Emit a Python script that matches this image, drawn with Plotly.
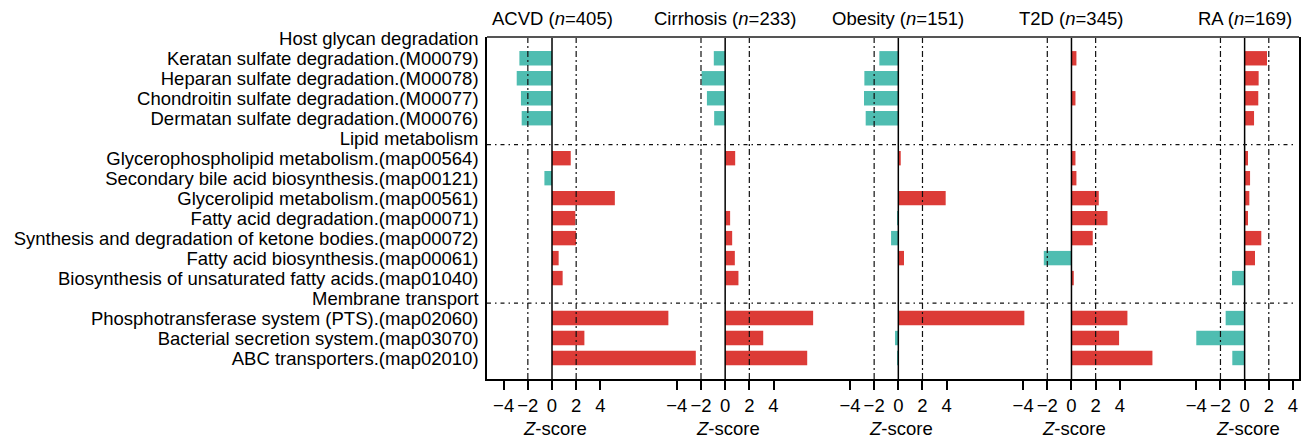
import plotly.graph_objects as go

# ---------------- data ----------------
row_labels = [
    "Host glycan degradation",
    "Keratan sulfate degradation.(M00079)",
    "Heparan sulfate degradation.(M00078)",
    "Chondroitin sulfate degradation.(M00077)",
    "Dermatan sulfate degradation.(M00076)",
    "Lipid metabolism",
    "Glycerophospholipid metabolism.(map00564)",
    "Secondary bile acid biosynthesis.(map00121)",
    "Glycerolipid metabolism.(map00561)",
    "Fatty acid degradation.(map00071)",
    "Synthesis and degradation of ketone bodies.(map00072)",
    "Fatty acid biosynthesis.(map00061)",
    "Biosynthesis of unsaturated fatty acids.(map01040)",
    "Membrane transport",
    "Phosphotransferase system (PTS).(map02060)",
    "Bacterial secretion system.(map03070)",
    "ABC transporters.(map02010)",
]
header_rows = ["Host glycan degradation", "Lipid metabolism", "Membrane transport"]

panels = ["ACVD", "Cirrhosis", "Obesity", "T2D", "RA"]
panel_n = [405, 233, 151, 345, 169]

acvd = [None, -2.70, -2.92, -2.57, -2.51, None, 1.55, -0.63, 5.20, 1.93, 1.99, 0.55, 0.88, None, 9.63, 2.68, 11.90]
cirrhosis = [None, -0.94, -1.95, -1.51, -0.91, None, 0.83, None, None, 0.41, 0.58, 0.80, 1.10, None, 7.28, 3.15, 6.79]
obesity = [None, -1.57, -2.81, -2.84, -2.70, None, 0.20, None, 3.92, -0.10, -0.60, 0.47, None, None, 10.43, -0.27, -0.10]
t2d = [None, 0.41, None, 0.33, None, None, 0.33, 0.41, 2.26, 2.98, 1.76, -2.29, 0.19, None, 4.63, 3.94, 6.70]
ra = [None, 1.85, 1.16, 1.13, 0.78, None, 0.28, 0.45, 0.39, 0.28, 1.38, 0.86, -1.04, None, -1.57, -4.00, -1.02]
panel_values = [acvd, cirrhosis, obesity, t2d, ra]

tick_values = [-4, -2, 0, 2, 4]
ref_lines = [-2, 2]

# ---------------- layout constants ----------------
SPACING = 14.33          # x-units between panel zero points
X_LEFT = -5.38
X_RIGHT = 4 * SPACING + 4.5
RED = "#DC3B37"
TEAL = "#4FBDB1"
FONT = "Liberation Sans, Arial, Helvetica, sans-serif"
FS = 18.5

offsets = [i * SPACING for i in range(len(panels))]
rows = list(range(len(row_labels)))

fig = go.Figure()

for off, vals in zip(offsets, panel_values):
    ys, xs, cols = [], [], []
    for r, v in zip(rows, vals):
        if v is None:
            continue
        ys.append(r)
        xs.append(v)
        cols.append(RED if v > 0 else TEAL)
    fig.add_trace(go.Bar(
        orientation="h", y=ys, x=xs, base=[off] * len(xs),
        marker=dict(color=cols, line=dict(width=0)),
        width=0.72, showlegend=False, hoverinfo="skip",
    ))

shapes = []
for off in offsets:
    shapes.append(dict(type="line", xref="x", yref="paper", x0=off, x1=off, y0=0, y1=1,
                       line=dict(color="black", width=1.5)))
    for rl in ref_lines:
        shapes.append(dict(type="line", xref="x", yref="paper", x0=off + rl, x1=off + rl, y0=0, y1=1,
                           line=dict(color="#111", width=1.2, dash="6px,3px,2px,3px")))
# header separator lines (Lipid metabolism, Membrane transport)
for h, dy in zip(header_rows[1:], [0.32, 0.25]):
    yy = row_labels.index(h) + dy
    shapes.append(dict(type="line", xref="paper", yref="y", x0=0, x1=0.993, y0=yy, y1=yy,
                       line=dict(color="#111", width=1.2, dash="4px,4px,1.5px,4px")))
# top frame
shapes.append(dict(type="line", xref="paper", yref="paper", x0=0, x1=1, y0=1, y1=1,
                   line=dict(color="#555", width=2)))

annotations = []
for off, name, n in zip(offsets, panels, panel_n):
    annotations.append(dict(x=off, y=1, xref="x", yref="paper", yshift=19, yanchor="middle",
                            xanchor="center", showarrow=False,
                            text=f"{name} (<i>n</i>={n})", font=dict(size=FS, color="black", family=FONT)))
    annotations.append(dict(x=off + 0.25, y=0, xref="x", yref="paper", yshift=-49, yanchor="middle",
                            xanchor="center", showarrow=False,
                            text="<i>Z</i>-score", font=dict(size=FS, color="black", family=FONT)))

tickvals, ticktext = [], []
for off in offsets:
    for t in tick_values:
        tickvals.append(off + t)
        ticktext.append(("\u2212" + str(-t)) if t < 0 else str(t))

fig.update_layout(
    width=1301, height=431,
    margin=dict(l=479, r=10, t=29, b=60, pad=0, autoexpand=False),
    paper_bgcolor="white", plot_bgcolor="white",
    barmode="overlay",
    font=dict(family=FONT, size=FS, color="black"),
    shapes=shapes, annotations=annotations,
    xaxis=dict(range=[X_LEFT, X_RIGHT], showgrid=False, zeroline=False,
               showline=True, linecolor="black", linewidth=1.5,
               ticks="outside", ticklen=9, tickwidth=1.5, tickcolor="black",
               tickvals=tickvals, ticktext=ticktext, automargin=False,
               tickfont=dict(size=FS, color="black", family=FONT)),
    yaxis=dict(range=[len(row_labels) + 0.05, -0.065], showgrid=False, zeroline=False,
               showline=True, mirror=True, linecolor="black", linewidth=1.5,
               ticks="", tickvals=rows, ticktext=row_labels, ticklabelstandoff=3,
               automargin=False,
               tickfont=dict(size=FS, color="black", family=FONT)),
)

fig.write_html("out.html")
